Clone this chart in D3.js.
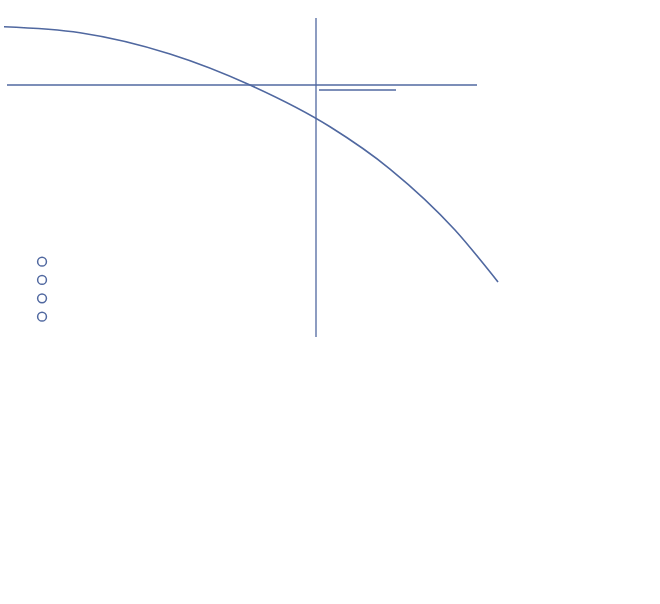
<!DOCTYPE html>
<html>
<head>
<meta charset="utf-8">
<script src="https://cdn.jsdelivr.net/npm/d3@7"></script>
<style>
  html, body { margin: 0; padding: 0; background: #ffffff; }
  svg { display: block; }
</style>
</head>
<body>
<svg id="chart" width="660" height="604"></svg>
<script>
// Curve samples (data units)
const curveX = [-4.052, -3.065, -1.896, -0.857, 0.182, 0.961, 1.805, 2.364];
const curveY = [0.757, 0.679, 0.403, 0, -0.542, -1.091, -1.883, -2.558];

// Reference lines (data units)
const hAxisX = [-4.013, 2.091];     // horizontal zero line extent
const vAxisY = [0.870, -3.273];     // vertical zero line extent
const shortLineX = [0.039, 1.039];  // short segment
const shortLineY = -0.065;

// Marker points
const markerX = [-3.558, -3.558, -3.558, -3.558];
const markerY = [-2.295, -2.532, -2.770, -3.009];

const color = "#5068a0";
const svg = d3.select("#chart");

const x = d3.scaleLinear().domain([-4, 2]).range([8, 470]);
const y = d3.scaleLinear().domain([1, -3]).range([8, 316]);

// Horizontal zero line
svg.append("line")
  .attr("x1", x(hAxisX[0])).attr("x2", x(hAxisX[1]))
  .attr("y1", y(0)).attr("y2", y(0))
  .attr("stroke", color).attr("stroke-width", 1.5);

// Vertical zero line
svg.append("line")
  .attr("x1", x(0)).attr("x2", x(0))
  .attr("y1", y(vAxisY[0])).attr("y2", y(vAxisY[1]))
  .attr("stroke", color).attr("stroke-width", 1.3);

// Short segment
svg.append("line")
  .attr("x1", x(shortLineX[0])).attr("x2", x(shortLineX[1]))
  .attr("y1", y(shortLineY)).attr("y2", y(shortLineY))
  .attr("stroke", color).attr("stroke-width", 1.5);

// Curve
const pts = curveX.map((v, i) => [v, curveY[i]]);
svg.append("path")
  .datum(pts)
  .attr("fill", "none")
  .attr("stroke", color)
  .attr("stroke-width", 1.6)
  .attr("d", d3.line().x(d => x(d[0])).y(d => y(d[1])).curve(d3.curveMonotoneX));

// Markers
svg.selectAll("circle.m")
  .data(markerX.map((v, i) => [v, markerY[i]]))
  .join("circle")
  .attr("class", "m")
  .attr("cx", d => x(d[0]))
  .attr("cy", d => y(d[1]))
  .attr("r", 4.4)
  .attr("fill", "#ffffff")
  .attr("stroke", color)
  .attr("stroke-width", 1.5);
</script>
</body>
</html>
